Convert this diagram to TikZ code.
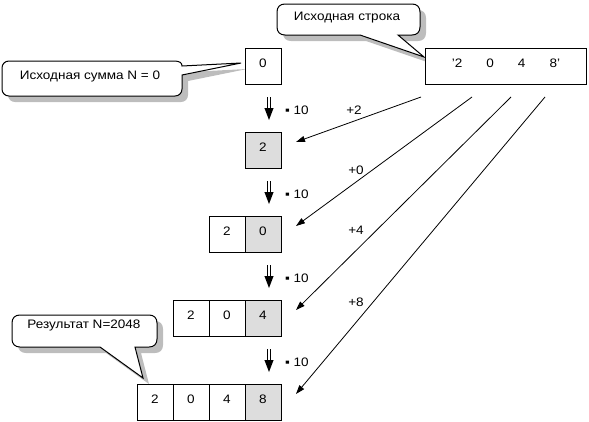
\documentclass[tikz,border=0pt]{standalone}
\usepackage{fontspec}
\setmainfont{Liberation Sans}[FakeStretch=1.1]
\usetikzlibrary{arrows.meta}
\definecolor{cellgray}{HTML}{DDDDDD}
\definecolor{shadowgray}{HTML}{BDBDBD}
\begin{document}
\begin{tikzpicture}[x=1pt,y=-1pt,line width=1pt,
  font=\fontsize{12.3pt}{14pt}\selectfont,
  cell/.style={draw=black,fill=white,minimum width=36pt,minimum height=36pt,
    inner sep=0pt,outer sep=0pt,text height=8.8pt,text depth=6pt},
  gcell/.style={cell,fill=cellgray},
  txt/.style={inner sep=0pt,outer sep=0pt},
  ptr/.style={-{Triangle[length=9pt,width=6pt]},line width=0.8pt},
  shadowfill/.style={fill=shadowgray,draw=none,shift={(6,6)}},
  bubble/.style={draw=black,fill=white},
  pathA/.style={insert path={(9,61) -- (174,61) .. controls (180,61) and (182,63) .. (182,66)
     -- (241,63) -- (182,75) -- (182,89) .. controls (182,93) and (179,96) .. (175,96)
     -- (9,96) .. controls (5,96) and (2,93) .. (2,89) -- (2,68)
     .. controls (2,64) and (5,61) .. (9,61) -- cycle}},
  pathB/.style={insert path={(285,4) -- (412,4) .. controls (417,4) and (420,7) .. (420,12)
     -- (420,27) .. controls (420,32) and (417,35) .. (412,35) -- (398,35) -- (424,57)
     -- (360,35) -- (285,35) .. controls (280,35) and (277,32) .. (277,27) -- (277,12)
     .. controls (277,7) and (280,4) .. (285,4) -- cycle}},
  pathC/.style={insert path={(20,315) -- (149,315) .. controls (154,315) and (157,318) .. (157,323)
     -- (157,339) .. controls (157,344) and (154,347) .. (149,347) -- (135,347) -- (143,378)
     -- (100,347) -- (20,347) .. controls (15,347) and (12,344) .. (12,339) -- (12,323)
     .. controls (12,318) and (15,315) .. (20,315) -- cycle}},
  dblarrow/.pic={
    \draw[line width=0.9pt] (-1.6,0) -- (-1.6,13);
    \draw[line width=0.9pt] (1.6,0) -- (1.6,13);
    \fill (-4.6,11) -- (4.6,11) -- (0,23) -- cycle;}
]
\useasboundingbox (0,0) rectangle (589,421);

% callout shadows
\fill[shadowfill,pathA];
\fill[shadowfill,pathB];
\fill[shadowfill,pathC];
% callouts
\draw[bubble,pathA];
\draw[bubble,pathB];
\draw[bubble,pathC];
\node[txt] (lblA) at (90,76.5) {Исходная сумма N = 0};
\node[txt] (lblB) at (347,17.5) {Исходная строка};
\node[txt] (lblC) at (84,325.5) {Результат N=2048};

% source string
\node[cell,minimum width=161pt] (str) at (506,66)
  {'2\hspace{24pt}0\hspace{24pt}4\hspace{24pt}8'};

% rows of cells
\node[cell] (r0d) at (263,66) {0};

\node[gcell] (r1d) at (263,150) {2};

\node[cell] (r2c) at (227,234) {2};
\node[gcell] (r2d) at (263,234) {0};

\node[cell] (r3b) at (191,318) {2};
\node[cell] (r3c) at (227,318) {0};
\node[gcell] (r3d) at (263,318) {4};

\node[cell] (r4a) at (155,402) {2};
\node[cell] (r4b) at (191,402) {0};
\node[cell] (r4c) at (227,402) {4};
\node[gcell] (r4d) at (263,402) {8};

% multiply by 10
\foreach \t/\n in {132/1,216/2,300/3,384/4}{
  \pic at (269,\t-35) {dblarrow};
  \node[txt,anchor=west] (m\n) at (285,\t-22) {▪ 10};
}

% digit additions
\coordinate (s1) at (421,97);
\coordinate (s2) at (472,97);
\coordinate (s3) at (511,97);
\coordinate (s4) at (545,97);
\coordinate (t1) at (296,142);
\coordinate (t2) at (296,226);
\coordinate (t3) at (296,310);
\coordinate (t4) at (296,394);
\draw[ptr] (s1) -- (t1);
\draw[ptr] (s2) -- (t2);
\draw[ptr] (s3) -- (t3);
\draw[ptr] (s4) -- (t4);
\node[txt] (p1) at (354,110) {+2};
\node[txt] (p2) at (356,170) {+0};
\node[txt] (p3) at (356,230) {+4};
\node[txt] (p4) at (356,302) {+8};
\end{tikzpicture}
\end{document}
